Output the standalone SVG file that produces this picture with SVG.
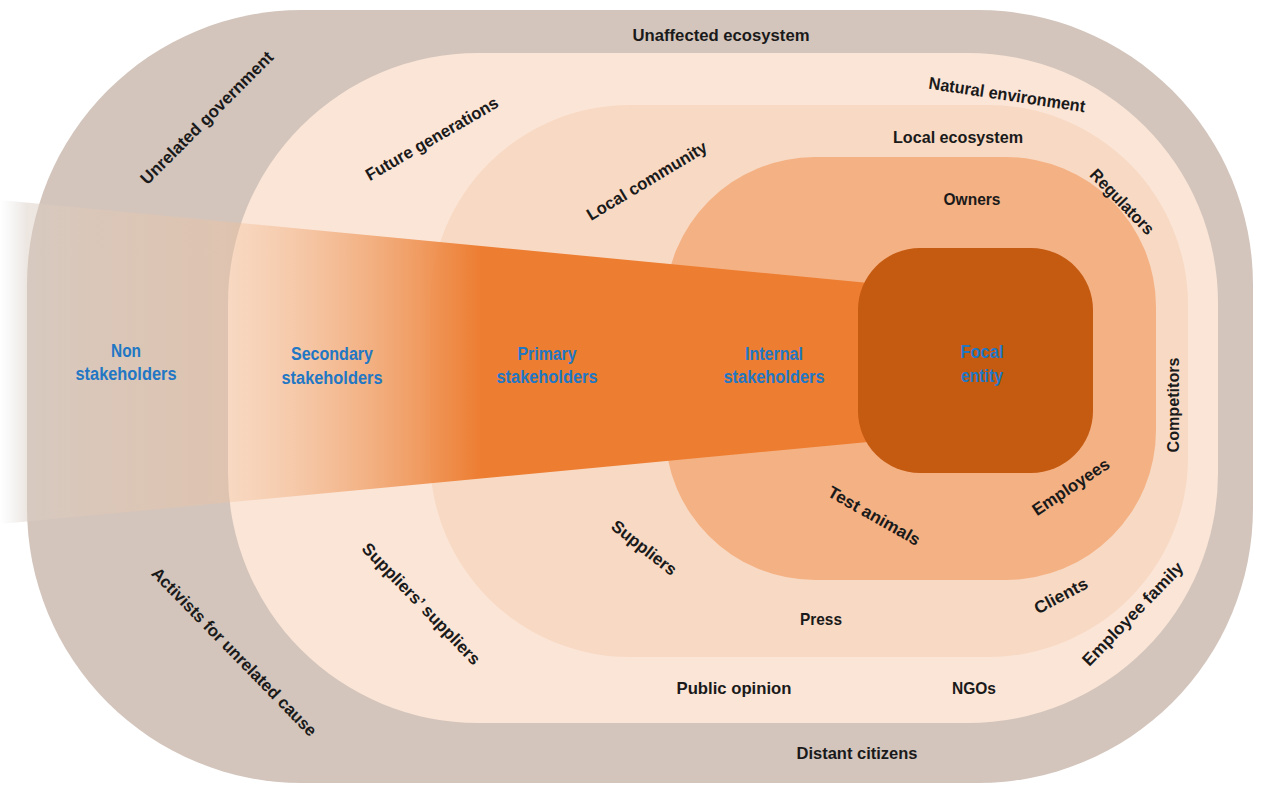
<svg xmlns="http://www.w3.org/2000/svg" width="1285" height="787" viewBox="0 0 1285 787">
  <defs>
    <style>
      .lbl { font-family: "Liberation Sans", Arial, sans-serif; font-weight: bold; font-size: 17px; fill: #1a1a1a; text-anchor: middle; dominant-baseline: central; }
      .blue { font-family: "Liberation Sans", Arial, sans-serif; font-weight: bold; font-size: 18px; fill: #2277C4; text-anchor: middle; }
    </style>
    <linearGradient id="bandGrad" gradientUnits="userSpaceOnUse" x1="0" y1="0" x2="900" y2="0">
      <stop offset="0" stop-color="#DADADA" stop-opacity="0"/>
      <stop offset="0.03" stop-color="#DACDC3" stop-opacity="0.5"/>
      <stop offset="0.253" stop-color="#F2C19B" stop-opacity="0.35"/>
      <stop offset="0.535" stop-color="#ED7D31" stop-opacity="1"/>
      <stop offset="1" stop-color="#ED7D31" stop-opacity="1"/>
    </linearGradient>
  </defs>

  <g id="non-stakeholders">
    <rect x="27" y="10" width="1226" height="773" rx="275" ry="275" fill="#D3C5BC"/>
  </g>
  <g id="secondary-stakeholders">
    <rect x="228" y="53" width="990" height="670" rx="250" ry="250" fill="#FBE5D7"/>
  </g>
  <g id="primary-stakeholders">
    <rect x="430" y="105" width="758" height="552" rx="200" ry="200" fill="#F8D9C3"/>
  </g>
  <g id="internal-stakeholders">
    <rect x="665" y="157" width="491" height="423" rx="150" ry="150" fill="#F4B183"/>
  </g>
  <g id="band">
    <polygon points="0,200 900,286 900,439 0,524" fill="url(#bandGrad)"/>
  </g>
  <g id="focal-entity">
    <rect x="858" y="248" width="235" height="225" rx="62" ry="62" fill="#C55A11"/>
  </g>
  <g id="connectors"></g>

  <g id="blue-labels">
    <text class="blue" x="126" y="357" textLength="30" lengthAdjust="spacingAndGlyphs">Non</text>
    <text class="blue" x="126" y="380" textLength="101" lengthAdjust="spacingAndGlyphs">stakeholders</text>
    <text class="blue" x="332" y="360" textLength="82" lengthAdjust="spacingAndGlyphs">Secondary</text>
    <text class="blue" x="332" y="384" textLength="101" lengthAdjust="spacingAndGlyphs">stakeholders</text>
    <text class="blue" x="547" y="360" textLength="59" lengthAdjust="spacingAndGlyphs">Primary</text>
    <text class="blue" x="547" y="383" textLength="101" lengthAdjust="spacingAndGlyphs">stakeholders</text>
    <text class="blue" x="774" y="360" textLength="58" lengthAdjust="spacingAndGlyphs">Internal</text>
    <text class="blue" x="774" y="383" textLength="101" lengthAdjust="spacingAndGlyphs">stakeholders</text>
    <text class="blue" x="982" y="358" textLength="43" lengthAdjust="spacingAndGlyphs">Focal</text>
    <text class="blue" x="982" y="382" textLength="42" lengthAdjust="spacingAndGlyphs">entity</text>
  </g>

  <g id="outer-labels">
    <text class="lbl" x="721" y="35" textLength="177" lengthAdjust="spacingAndGlyphs">Unaffected ecosystem</text>
    <text class="lbl" transform="translate(207,118) rotate(-45)" textLength="180" lengthAdjust="spacingAndGlyphs">Unrelated government</text>
    <text class="lbl" transform="translate(234,652) rotate(45.7)" textLength="228" lengthAdjust="spacingAndGlyphs">Activists for unrelated  cause</text>
    <text class="lbl" x="857" y="753" textLength="121" lengthAdjust="spacingAndGlyphs">Distant citizens</text>
  </g>

  <g id="secondary-labels">
    <text class="lbl" transform="translate(432,139) rotate(-30)" textLength="150" lengthAdjust="spacingAndGlyphs">Future generations</text>
    <text class="lbl" transform="translate(1007,95) rotate(8.6)" textLength="158" lengthAdjust="spacingAndGlyphs">Natural environment</text>
    <text class="lbl" transform="translate(421,604) rotate(46)" textLength="162" lengthAdjust="spacingAndGlyphs">Suppliers’ suppliers</text>
    <text class="lbl" x="734" y="688" textLength="115" lengthAdjust="spacingAndGlyphs">Public opinion</text>
    <text class="lbl" x="974" y="688" textLength="44" lengthAdjust="spacingAndGlyphs">NGOs</text>
    <text class="lbl" transform="translate(1133,614) rotate(-46)" textLength="137" lengthAdjust="spacingAndGlyphs">Employee family</text>
  </g>

  <g id="primary-labels">
    <text class="lbl" x="958" y="137" textLength="130" lengthAdjust="spacingAndGlyphs">Local ecosystem</text>
    <text class="lbl" transform="translate(647,181) rotate(-31)" textLength="137" lengthAdjust="spacingAndGlyphs">Local community</text>
    <text class="lbl" transform="translate(1122,202) rotate(46)" textLength="84" lengthAdjust="spacingAndGlyphs">Regulators</text>
    <text class="lbl" transform="translate(1173,405) rotate(-90)" textLength="95" lengthAdjust="spacingAndGlyphs">Competitors</text>
    <text class="lbl" transform="translate(644,548) rotate(38)" textLength="78" lengthAdjust="spacingAndGlyphs">Suppliers</text>
    <text class="lbl" x="821" y="619" textLength="42" lengthAdjust="spacingAndGlyphs">Press</text>
    <text class="lbl" transform="translate(1061,596) rotate(-28)" textLength="58" lengthAdjust="spacingAndGlyphs">Clients</text>
  </g>

  <g id="internal-labels">
    <text class="lbl" x="972" y="199" textLength="57" lengthAdjust="spacingAndGlyphs">Owners</text>
    <text class="lbl" transform="translate(1071,487) rotate(-33.5)" textLength="89" lengthAdjust="spacingAndGlyphs">Employees</text>
    <text class="lbl" transform="translate(874,516) rotate(29.5)" textLength="103" lengthAdjust="spacingAndGlyphs">Test animals</text>
  </g>
</svg>
